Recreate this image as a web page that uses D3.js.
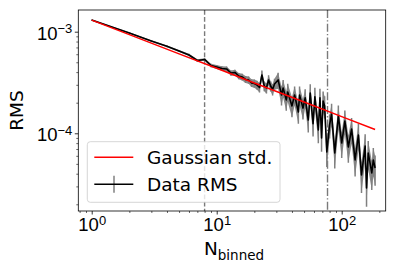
<!DOCTYPE html>
<html lang="en">
<head>
<meta charset="UTF-8">
<title>RMS vs N binned</title>
<script src="https://d3js.org/d3.v7.min.js"></script>
<style>
    html, body { margin: 0; padding: 0; background: #fff; }
    svg { font-family: 'DejaVu Sans', sans-serif; display: block; }
</style>
</head>
<body>
<script>
// data
const nBinned = [1, 2, 3, 4, 5, 6, 7, 8, 9, 10,
    11, 12, 13, 14, 15, 16, 17, 18, 19, 20,
    21, 22, 23, 24, 25, 26, 27, 28, 29, 31,
    33, 34, 36, 37, 40, 42, 45, 46, 49, 51,
    54, 56, 59, 61, 65, 67, 69, 71, 73, 76,
    80, 83, 88, 94, 100, 106, 113, 120, 128, 136,
    144, 154, 158, 163, 174, 179, 185];
const rmsData = [1.30e-3, 9.71e-4, 8.10e-4, 7.18e-4, 6.46e-4, 5.90e-4, 5.21e-4, 5.33e-4, 4.65e-4, 4.49e-4,
    4.34e-4, 4.30e-4, 3.92e-4, 3.97e-4, 3.66e-4, 3.58e-4, 3.39e-4, 3.35e-4, 3.13e-4, 3.09e-4,
    2.99e-4, 2.82e-4, 3.75e-4, 2.92e-4, 2.79e-4, 3.35e-4, 2.92e-4, 2.70e-4, 3.06e-4, 3.35e-4,
    2.38e-4, 2.79e-4, 2.13e-4, 2.55e-4, 1.86e-4, 2.38e-4, 1.62e-4, 2.38e-4, 1.77e-4, 2.23e-4,
    1.35e-4, 2.49e-4, 1.24e-4, 2.28e-4, 1.08e-4, 2.23e-4, 8.99e-5, 2.08e-4, 1.86e-4, 6.55e-5,
    1.21e-4, 1.55e-4, 6.40e-5, 1.48e-4, 8.02e-5, 1.32e-4, 7.33e-5, 1.10e-4, 5.46e-5, 9.62e-5,
    3.89e-5, 7.50e-5, 2.89e-5, 6.40e-5, 4.07e-5, 5.46e-5, 4.55e-5];
const rmsErr = [2.0e-5, 1.5e-5, 1.4e-5, 1.4e-5, 1.4e-5, 1.5e-5, 1.5e-5, 1.6e-5, 1.8e-5, 2.0e-5,
    2.2e-5, 2.4e-5, 2.4e-5, 2.6e-5, 2.6e-5, 2.7e-5, 2.7e-5, 2.8e-5, 2.8e-5, 2.9e-5,
    3.0e-5, 3.0e-5, 4.0e-5, 3.2e-5, 3.2e-5, 3.8e-5, 3.4e-5, 3.4e-5, 3.8e-5, 6.0e-5,
    5.0e-5, 5.5e-5, 4.6e-5, 5.2e-5, 4.2e-5, 5.0e-5, 3.8e-5, 5.0e-5, 4.0e-5, 4.8e-5,
    3.3e-5, 5.4e-5, 3.1e-5, 5.2e-5, 2.8e-5, 5.2e-5, 2.4e-5, 5.0e-5, 4.6e-5, 1.9e-5,
    3.2e-5, 4.0e-5, 1.9e-5, 4.0e-5, 2.3e-5, 3.6e-5, 2.2e-5, 3.1e-5, 1.7e-5, 2.8e-5,
    1.3e-5, 2.3e-5, 1.0e-5, 2.0e-5, 1.3e-5, 1.7e-5, 1.5e-5];

const gaussN = [1, 2, 5, 10, 20, 50, 100, 185];
const gaussStd = [1.30e-3, 9.35e-4, 6.05e-4, 4.36e-4, 3.13e-4, 2.03e-4, 1.46e-4, 1.09e-4];

const vDashed = 8;
const vDashDot = 77;

const xMajor = [1, 10, 100];
const yMajor = [1e-4, 1e-3];
const xLabel = "N";
const xLabelSub = "binned";
const yLabel = "RMS";
const legendLabels = ["Gaussian std.", "Data RMS"];

const W = 399, H = 265;
const margin = { top: 10, right: 13.3, bottom: 54, left: 78.3 };
const width = W - margin.left - margin.right;
const height = H - margin.top - margin.bottom;

const x = d3.scaleLog().domain([0.781, 224.9]).range([0, width]);
const y = d3.scaleLog().domain([1.718e-5, 1.635e-3]).range([height, 0]);

const svg = d3.select("body").append("svg")
    .attr("width", W).attr("height", H);
const g = svg.append("g")
    .attr("transform", `translate(${margin.left},${margin.top})`);

// clip to axes
svg.append("defs").append("clipPath").attr("id", "clip")
    .append("rect").attr("width", width).attr("height", height);
const plot = g.append("g").attr("clip-path", "url(#clip)");

// vertical reference lines
plot.append("line")
    .attr("x1", x(vDashed)).attr("x2", x(vDashed))
    .attr("y1", 0).attr("y2", height)
    .attr("stroke", "#7a7a7a").attr("stroke-width", 1.4)
    .attr("stroke-dasharray", "4.7,2.4");
plot.append("line")
    .attr("x1", x(vDashDot)).attr("x2", x(vDashDot))
    .attr("y1", 0).attr("y2", height)
    .attr("stroke", "#7a7a7a").attr("stroke-width", 1.4)
    .attr("stroke-dasharray", "8,2.2,1.3,2.2");

const data = nBinned.map((n, i) => ({ n: n, v: rmsData[i], e: rmsErr[i] }));

// error band + bars
plot.append("path")
    .datum(data)
    .attr("fill", "#8a8a8a")
    .attr("d", d3.area()
        .x(d => x(d.n))
        .y0(d => y(d.v - d.e))
        .y1(d => y(d.v + d.e)));
plot.selectAll(".ebar")
    .data(data)
    .enter().append("line")
    .attr("class", "ebar")
    .attr("x1", d => x(d.n)).attr("x2", d => x(d.n))
    .attr("y1", d => y(d.v - d.e)).attr("y2", d => y(d.v + d.e))
    .attr("stroke", "#808080").attr("stroke-width", 1.5);

plot.append("path")
    .datum(data)
    .attr("fill", "none")
    .attr("stroke", "#000")
    .attr("stroke-width", 1.6)
    .attr("stroke-linejoin", "round")
    .attr("d", d3.line().x(d => x(d.n)).y(d => y(d.v)));

plot.append("path")
    .datum(gaussN.map((n, i) => ({ n: n, v: gaussStd[i] })))
    .attr("fill", "none")
    .attr("stroke", "#ff0000")
    .attr("stroke-width", 1.5)
    .attr("d", d3.line().x(d => x(d.n)).y(d => y(d.v)));

// minor ticks
const xMinor = [];
[0.1, 1, 10, 100].forEach(b => { for (let k = 2; k <= 9; k++) xMinor.push(b * k); });
const yMinor = [];
[1e-5, 1e-4, 1e-3].forEach(b => { for (let k = 2; k <= 9; k++) yMinor.push(b * k); });

function inDom(s, v) { const d = s.domain(); return v >= d[0] && v <= d[1]; }

g.append("g")
    .attr("transform", `translate(0,${height})`)
    .call(d3.axisBottom(x).tickValues(xMinor.filter(v => inDom(x, v))).tickSize(2).tickFormat(""))
    .call(a => a.select(".domain").remove())
    .selectAll("line").attr("stroke-width", 0.6);
g.append("g")
    .call(d3.axisLeft(y).tickValues(yMinor.filter(v => inDom(y, v))).tickSize(2).tickFormat(""))
    .call(a => a.select(".domain").remove())
    .selectAll("line").attr("stroke-width", 0.6);

// major ticks with 10^k labels
const xAxis = g.append("g")
    .attr("transform", `translate(0,${height})`)
    .call(d3.axisBottom(x).tickValues(xMajor).tickSize(3.5).tickFormat(""));
xAxis.select(".domain").remove();
xAxis.selectAll(".tick line").attr("stroke-width", 0.8);
xAxis.selectAll(".tick").each(function(d) {
    const t = d3.select(this).append("text")
        .attr("fill", "#000").attr("text-anchor", "middle")
        .attr("y", 20).attr("font-size", 18.5);
    t.append("tspan").text("10");
    t.append("tspan").attr("dy", -6.5).attr("font-size", 13)
        .text(String(Math.round(Math.log10(d))).replace("-", "\u2212"));
});

const yAxis = g.append("g")
    .call(d3.axisLeft(y).tickValues(yMajor).tickSize(3.5).tickFormat(""));
yAxis.select(".domain").remove();
yAxis.selectAll(".tick line").attr("stroke-width", 0.8);
yAxis.selectAll(".tick").each(function(d) {
    const t = d3.select(this).append("text")
        .attr("fill", "#000").attr("text-anchor", "end")
        .attr("x", -6).attr("y", 7.3).attr("dy", 0).attr("font-size", 18.5);
    t.append("tspan").text("10");
    t.append("tspan").attr("dy", -6.5).attr("font-size", 13)
        .text(String(Math.round(Math.log10(d))).replace("-", "\u2212"));
});

// frame
g.append("rect")
    .attr("width", width).attr("height", height)
    .attr("fill", "none").attr("stroke", "#000").attr("stroke-width", 0.8);

// axis labels
const xl = g.append("text")
    .attr("x", width / 2 + 2).attr("y", height + 44)
    .attr("text-anchor", "middle").attr("font-size", 18.5);
xl.append("tspan").text(xLabel);
xl.append("tspan").attr("dy", 4.5).attr("font-size", 13.5).text(xLabelSub);

svg.append("text")
    .attr("transform", `translate(22.5,${margin.top + height / 2}) rotate(-90)`)
    .attr("text-anchor", "middle").attr("font-size", 18.5)
    .text(yLabel);

// legend
const lg = svg.append("g");
lg.append("rect")
    .attr("x", 87.3).attr("y", 141.7).attr("width", 192.7).attr("height", 60.6)
    .attr("rx", 3).attr("fill", "#fff").attr("fill-opacity", 0.8)
    .attr("stroke", "#ccc").attr("stroke-width", 0.8);
const ly = [157.3, 184.3];
lg.append("line").attr("x1", 94.3).attr("x2", 133.3).attr("y1", ly[0]).attr("y2", ly[0])
    .attr("stroke", "#ff0000").attr("stroke-width", 1.5);
lg.append("line").attr("x1", 114).attr("x2", 114).attr("y1", ly[1] - 8.5).attr("y2", ly[1] + 8.5)
    .attr("stroke", "#808080").attr("stroke-width", 1.5);
lg.append("line").attr("x1", 94.3).attr("x2", 133.3).attr("y1", ly[1]).attr("y2", ly[1])
    .attr("stroke", "#000").attr("stroke-width", 1.5);
legendLabels.forEach((s, i) => {
    lg.append("text").attr("x", 147).attr("y", ly[i] + 6.8)
        .attr("font-size", 18.5).text(s);
});
</script>
</body>
</html>
